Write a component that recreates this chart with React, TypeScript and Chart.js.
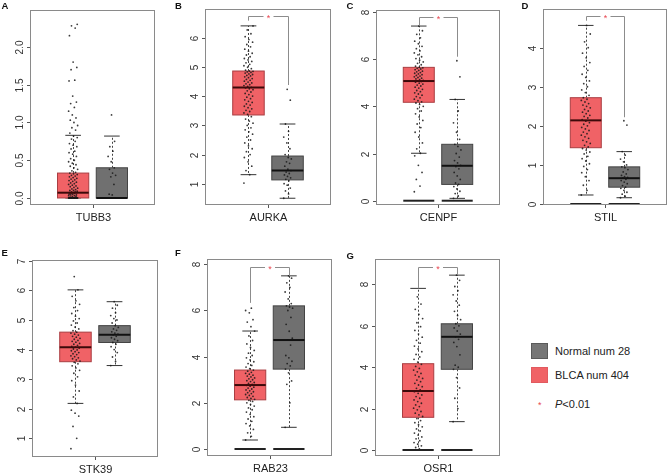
import React, { useEffect, useRef } from 'react';
import { Chart, registerables } from 'chart.js';

Chart.register(...registerables);

// ---------------- data ----------------
const genes = ['TUBB3', 'AURKA', 'CENPF', 'STIL', 'STK39', 'RAB23', 'OSR1'];
const panelLetters = ['A', 'B', 'C', 'D', 'E', 'F', 'G'];

// box statistics: [lower whisker, Q1, median, Q3, upper whisker]
const tumorStats = [
  [0, 0, 0.07, 0.33, 0.83],
  [1.31, 3.36, 4.3, 4.87, 6.42],
  [2.01, 4.17, 5.07, 5.65, 7.4],
  [0.23, 1.44, 2.14, 2.72, 4.57],
  [2.18, 3.59, 4.08, 4.59, 6.02],
  [0.39, 2.13, 2.77, 3.42, 5.11],
  [0.0, 1.58, 2.85, 4.17, 7.81],
];
const normalStats = [
  [0, 0, 0, 0.4, 0.82],
  [0.5, 1.13, 1.45, 1.95, 3.05],
  [0.1, 0.69, 1.48, 2.39, 4.29],
  [0.16, 0.43, 0.66, 0.95, 1.34],
  [3.46, 4.24, 4.5, 4.81, 5.62],
  [0.94, 3.46, 4.72, 6.2, 7.5],
  [1.37, 3.9, 5.47, 6.1, 8.45],
];

// significance brackets: [top, left end, right end] (null = none)
const brackets = [
  null,
  [6.76, 6.6, 4.39],
  [7.77, 7.44, 6.1],
  [4.81, 4.69, 2.22],
  null,
  [7.89, 6.33, 7.5],
  [8.85, 7.81, 8.45],
];
const zeroLine = [false, false, true, true, false, true, true];

const yMins = [-0.093, 0.268, -0.182, -0.026, 0.367, -0.303, -0.29];
const yMaxs = [2.49, 7.0, 8.08, 4.99, 7.03, 8.23, 9.23];
const yTickLabels = [
  ['0.0', '0.5', '1.0', '1.5', '2.0'],
  ['1', '2', '3', '4', '5', '6'],
  ['0', '2', '4', '6', '8'],
  ['0', '1', '2', '3', '4'],
  ['1', '2', '3', '4', '5', '6', '7'],
  ['0', '2', '4', '6', '8'],
  ['0', '2', '4', '6', '8'],
];

// expression values
const tumorTUBB3 = [0, 0, 0, 0, 0, 0, 0, 0, 0, 0, 0, 0, 0, 0, 0, 0, 0, 0, 0, 0,
  0.01, 0.02, 0.02, 0.03, 0.03, 0.04, 0.04, 0.05, 0.05, 0.06, 0.06, 0.07, 0.07, 0.07, 0.08, 0.08, 0.09, 0.1, 0.1, 0.11,
  0.12, 0.13, 0.14, 0.15, 0.16, 0.17, 0.18, 0.19, 0.2, 0.21, 0.22, 0.23, 0.24, 0.25, 0.26, 0.27, 0.28, 0.29, 0.3, 0.31,
  0.32, 0.33, 0.34, 0.36, 0.38, 0.4, 0.42, 0.44, 0.46, 0.48, 0.5, 0.52, 0.55, 0.58, 0.6, 0.62, 0.65, 0.68, 0.7, 0.72,
  0.75, 0.78, 0.8, 0.82, 0.86, 0.9, 0.93, 0.96, 1.0, 1.03, 1.06, 1.1, 1.15, 1.2, 1.25, 1.27, 1.35, 1.55, 1.56, 1.7,
  1.73, 1.8, 2.15, 2.25, 2.28, 2.3];
const normalTUBB3 = [0, 0, 0, 0, 0, 0, 0, 0, 0, 0, 0, 0, 0, 0, 0.04, 0.05, 0.18, 0.28, 0.3, 0.33, 0.38, 0.4, 0.48, 0.55, 0.62, 0.68, 0.75, 1.1];

const tumorAURKA = [1.02, 1.31, 1.45, 1.6, 1.75, 1.9, 2.0, 2.1, 2.2, 2.3, 2.4, 2.5, 2.6, 2.7, 2.78, 2.85, 2.92, 3.0, 3.08, 3.15, 3.22, 3.3,
  3.38, 3.43, 3.48, 3.52, 3.57, 3.61, 3.66, 3.7, 3.74, 3.79, 3.83, 3.88, 3.92, 3.97, 4.01, 4.06, 4.1, 4.15, 4.19, 4.23, 4.26, 4.29,
  4.31, 4.34, 4.37, 4.4, 4.43, 4.46, 4.49, 4.52, 4.55, 4.58, 4.61, 4.64, 4.67, 4.7, 4.72, 4.75, 4.77, 4.8, 4.82, 4.84, 4.86, 4.87,
  4.9, 4.95, 5.0, 5.05, 5.1, 5.15, 5.2, 5.25, 5.3, 5.36, 5.42, 5.48, 5.55, 5.62, 5.7, 5.78, 5.86, 5.95, 6.05, 6.15, 6.28, 6.42];
const normalAURKA = [0.5, 0.65, 0.75, 0.85, 0.95, 1.0, 1.1, 1.15, 1.2, 1.25, 1.3, 1.35, 1.4, 1.45, 1.5, 1.6, 1.7, 1.75, 1.85, 1.9, 2.0, 2.2, 2.4, 2.6, 2.8, 3.05, 3.87, 4.24];

const tumorCENPF = [0.38, 0.62, 0.9, 1.2, 1.5, 1.9, 2.01, 2.2, 2.45, 2.7, 2.9, 3.1, 3.25, 3.4, 3.55, 3.68, 3.8, 3.9, 4.0, 4.08, 4.14,
  4.19, 4.24, 4.3, 4.36, 4.41, 4.47, 4.52, 4.57, 4.62, 4.67, 4.72, 4.77, 4.81, 4.86, 4.9, 4.94, 4.98, 5.02, 5.05, 5.07,
  5.1, 5.13, 5.16, 5.19, 5.22, 5.25, 5.28, 5.31, 5.34, 5.37, 5.4, 5.43, 5.46, 5.49, 5.52, 5.55, 5.58, 5.61, 5.63, 5.65,
  5.7, 5.76, 5.82, 5.88, 5.95, 6.02, 6.1, 6.18, 6.26, 6.35, 6.44, 6.54, 6.65, 6.76, 6.9, 7.05, 7.2, 7.4];
const normalCENPF = [0.1, 0.2, 0.3, 0.4, 0.5, 0.6, 0.69, 0.75, 0.9, 1.05, 1.2, 1.35, 1.45, 1.5, 1.6, 1.7, 1.85, 2.0, 2.15, 2.3, 2.39, 2.6, 2.9, 3.3, 3.8, 4.29, 5.25, 5.93];

const tumorSTIL = [0.23, 0.35, 0.48, 0.6, 0.7, 0.8, 0.88, 0.96, 1.03, 1.1, 1.16, 1.22, 1.28, 1.33, 1.38, 1.42,
  1.46, 1.5, 1.55, 1.59, 1.63, 1.68, 1.72, 1.76, 1.8, 1.84, 1.88, 1.92, 1.96, 2.0, 2.04, 2.08, 2.12,
  2.16, 2.2, 2.24, 2.27, 2.31, 2.35, 2.38, 2.42, 2.46, 2.5, 2.53, 2.57, 2.61, 2.65, 2.68, 2.72,
  2.78, 2.85, 2.92, 3.0, 3.08, 3.15, 3.24, 3.32, 3.42, 3.52, 3.62, 3.74, 3.86, 4.0, 4.15, 4.35, 4.57];
const normalSTIL = [0.16, 0.2, 0.25, 0.3, 0.35, 0.4, 0.43, 0.47, 0.52, 0.56, 0.6, 0.63, 0.66, 0.68, 0.7, 0.73, 0.77, 0.82, 0.88, 0.93, 0.95, 1.0, 1.08, 1.15, 1.25, 1.34, 2.02, 2.13];

const tumorSTK39 = [0.65, 1.0, 1.4, 1.75, 1.85, 1.95, 2.18, 2.4, 2.6, 2.8, 2.95, 3.08, 3.2, 3.3, 3.38, 3.45, 3.52, 3.57,
  3.61, 3.65, 3.69, 3.72, 3.76, 3.79, 3.83, 3.86, 3.9, 3.93, 3.96, 3.99, 4.02, 4.05, 4.08,
  4.11, 4.14, 4.18, 4.21, 4.25, 4.28, 4.31, 4.35, 4.38, 4.42, 4.45, 4.49, 4.52, 4.56, 4.59,
  4.64, 4.7, 4.76, 4.83, 4.9, 4.97, 5.05, 5.13, 5.22, 5.32, 5.42, 5.53, 5.65, 5.8, 6.02, 6.47];
const normalSTK39 = [3.46, 3.6, 3.75, 3.9, 4.0, 4.1, 4.18, 4.24, 4.3, 4.35, 4.4, 4.45, 4.5, 4.52, 4.56, 4.6, 4.65, 4.7, 4.75, 4.81, 4.9, 5.0, 5.05, 5.15, 5.25, 5.4, 5.5, 5.62];

const tumorRAB23 = [0.39, 0.55, 0.7, 0.85, 1.0, 1.1, 1.2, 1.3, 1.4, 1.5, 1.6, 1.7, 1.78, 1.86, 1.93, 2.0, 2.06, 2.11,
  2.15, 2.19, 2.23, 2.28, 2.32, 2.36, 2.4, 2.44, 2.48, 2.52, 2.56, 2.6, 2.64, 2.68, 2.72, 2.76,
  2.8, 2.84, 2.88, 2.92, 2.96, 3.0, 3.04, 3.08, 3.12, 3.16, 3.2, 3.24, 3.28, 3.32, 3.37, 3.42,
  3.48, 3.55, 3.62, 3.7, 3.78, 3.86, 3.95, 4.05, 4.15, 4.27, 4.4, 4.55, 4.7, 4.9, 5.11, 5.3, 5.5, 5.6, 5.9, 6.0, 6.1];
const normalRAB23 = [0.94, 2.0, 2.8, 2.95, 3.3, 3.46, 3.6, 3.7, 3.8, 3.95, 4.05, 4.5, 4.72, 4.8, 5.1, 5.4, 5.7, 6.0, 6.1, 6.15, 6.2, 6.3, 6.5, 6.8, 7.0, 7.2, 7.4, 7.5];

const tumorOSR1 = [0.0, 0.05, 0.12, 0.2, 0.28, 0.36, 0.45, 0.54, 0.63, 0.72, 0.82, 0.92, 1.02, 1.12, 1.22, 1.32, 1.42, 1.52,
  1.62, 1.7, 1.78, 1.86, 1.94, 2.02, 2.1, 2.18, 2.26, 2.34, 2.42, 2.5, 2.58, 2.66, 2.74, 2.82,
  2.9, 2.98, 3.06, 3.14, 3.22, 3.3, 3.38, 3.46, 3.54, 3.62, 3.7, 3.78, 3.86, 3.94, 4.04, 4.14,
  4.25, 4.38, 4.5, 4.62, 4.75, 4.88, 5.02, 5.16, 5.3, 5.45, 5.6, 5.78, 5.96, 6.15, 6.35, 6.55, 6.8, 7.05, 7.4];
const normalOSR1 = [1.37, 2.0, 2.5, 3.0, 3.5, 3.9, 4.0, 4.1, 4.6, 5.0, 5.2, 5.35, 5.47, 5.6, 5.75, 5.9, 6.0, 6.1, 6.3, 6.5, 6.7, 7.0, 7.2, 7.5, 7.7, 7.9, 8.2, 8.45];

const tumorValues = [tumorTUBB3, tumorAURKA, tumorCENPF, tumorSTIL, tumorSTK39, tumorRAB23, tumorOSR1];
const normalValues = [normalTUBB3, normalAURKA, normalCENPF, normalSTIL, normalSTK39, normalRAB23, normalOSR1];

const legendLabels = ['Normal num 28', 'BLCA num 404'];

// ---------------- layout / style ----------------
const RECTS = [
  { L: 30, T: 10, R: 157, B: 205 },
  { L: 205, T: 9, R: 333, B: 205 },
  { L: 376, T: 10, R: 502, B: 205 },
  { L: 543, T: 9, R: 669, B: 205 },
  { L: 32, T: 260, R: 160, B: 457 },
  { L: 207, T: 259, R: 334, B: 456 },
  { L: 375, T: 259, R: 502, B: 456 },
];
const LETTER_POS = [[1.5, 1], [175, 1], [346.5, 1], [521.5, 1], [1.5, 247.5], [175, 247.5], [346.5, 250.5]];
const PAD = { left: 30, top: 10, right: 2, bottom: 28 };
const TUMOR_X = 0.345;
const NORMAL_X = 0.655;
const HALF = 0.125;
const RED = 'rgb(240,98,102)';
const RED_EDGE = 'rgb(170,62,66)';
const GRAY = 'rgb(112,112,112)';
const GRAY_EDGE = 'rgb(68,68,68)';
const FONT = '"Liberation Sans", Arial, Helvetica, sans-serif';

const jitter = (i: number, spread: number) => ((((i * 37) % 23) / 22) - 0.5) * 2 * spread;

function makePlugin(idx: number) {
  return {
    id: 'gepiaBox' + idx,
    beforeDatasetsDraw(chart: any) {
      const { ctx, scales } = chart;
      const x = scales.x;
      const y = scales.y;
      const drawBox = (cx: number, st: number[], fill: string, edge: string) => {
        const [lo, q1, m, q3, hi] = st;
        const xl = x.getPixelForValue(cx - HALF);
        const xr = x.getPixelForValue(cx + HALF);
        const xc = Math.round(x.getPixelForValue(cx)) + 0.5;
        const cl = x.getPixelForValue(cx - HALF / 2);
        const cr = x.getPixelForValue(cx + HALF / 2);
        ctx.save();
        ctx.lineWidth = 1;
        ctx.strokeStyle = '#444';
        ctx.setLineDash([2, 2]);
        ctx.beginPath();
        ctx.moveTo(xc, y.getPixelForValue(q3));
        ctx.lineTo(xc, y.getPixelForValue(hi));
        ctx.moveTo(xc, y.getPixelForValue(q1));
        ctx.lineTo(xc, y.getPixelForValue(lo));
        ctx.stroke();
        ctx.setLineDash([]);
        ctx.strokeStyle = '#333';
        ctx.beginPath();
        ctx.moveTo(cl, y.getPixelForValue(hi));
        ctx.lineTo(cr, y.getPixelForValue(hi));
        ctx.moveTo(cl, y.getPixelForValue(lo));
        ctx.lineTo(cr, y.getPixelForValue(lo));
        ctx.stroke();
        const yt = y.getPixelForValue(q3);
        const yb = y.getPixelForValue(q1);
        ctx.fillStyle = fill;
        ctx.fillRect(xl, yt, xr - xl, yb - yt);
        ctx.strokeStyle = edge;
        ctx.strokeRect(xl, yt, xr - xl, yb - yt);
        ctx.restore();
      };
      drawBox(TUMOR_X, tumorStats[idx], RED, RED_EDGE);
      drawBox(NORMAL_X, normalStats[idx], GRAY, GRAY_EDGE);
    },
    afterDatasetsDraw(chart: any) {
      const { ctx, scales, chartArea: a } = chart;
      const x = scales.x;
      const y = scales.y;
      ctx.save();
      const med = (cx: number, v: number, col: string) => {
        ctx.strokeStyle = col;
        ctx.lineWidth = 2;
        ctx.beginPath();
        ctx.moveTo(x.getPixelForValue(cx - HALF), y.getPixelForValue(v));
        ctx.lineTo(x.getPixelForValue(cx + HALF), y.getPixelForValue(v));
        ctx.stroke();
      };
      med(TUMOR_X, tumorStats[idx][2], 'rgb(60,10,10)');
      med(NORMAL_X, normalStats[idx][2], '#111');
      if (zeroLine[idx]) {
        med(TUMOR_X, 0, '#222');
        med(NORMAL_X, 0, '#222');
      }
      ctx.lineWidth = 1;
      ctx.strokeStyle = '#8a8a8a';
      ctx.strokeRect(a.left + 0.5, a.top + 0.5, a.right - a.left - 1, a.bottom - a.top - 1);
      ctx.strokeStyle = '#555';
      ctx.fillStyle = '#333';
      ctx.font = '10px ' + FONT;
      ctx.textAlign = 'center';
      ctx.textBaseline = 'middle';
      yTickLabels[idx].forEach((lab) => {
        const py = Math.round(y.getPixelForValue(Number(lab))) + 0.5;
        ctx.beginPath();
        ctx.moveTo(a.left, py);
        ctx.lineTo(a.left - 3, py);
        ctx.stroke();
        ctx.save();
        ctx.translate(a.left - 10, py);
        ctx.rotate(-Math.PI / 2);
        ctx.fillText(lab, 0, 0);
        ctx.restore();
      });
      const mx = Math.round(x.getPixelForValue(0.5)) + 0.5;
      ctx.beginPath();
      ctx.moveTo(mx, a.bottom);
      ctx.lineTo(mx, a.bottom + 3);
      ctx.stroke();
      ctx.font = '11px ' + FONT;
      ctx.fillStyle = '#222';
      ctx.textBaseline = 'top';
      ctx.fillText(genes[idx], mx, a.bottom + 7);
      const br = brackets[idx];
      if (br) {
        const [top, le, re] = br;
        const xl = Math.round(x.getPixelForValue(TUMOR_X)) + 0.5;
        const xr = Math.round(x.getPixelForValue(NORMAL_X)) + 0.5;
        const yt = Math.round(y.getPixelForValue(top)) + 0.5;
        const xm = (xl + xr) / 2;
        ctx.strokeStyle = '#8c8c8c';
        ctx.lineWidth = 1;
        ctx.beginPath();
        ctx.moveTo(xl, y.getPixelForValue(le));
        ctx.lineTo(xl, yt);
        ctx.lineTo(xm - 5, yt);
        ctx.moveTo(xm + 5, yt);
        ctx.lineTo(xr, yt);
        ctx.lineTo(xr, y.getPixelForValue(re));
        ctx.stroke();
        ctx.fillStyle = 'rgb(232,70,80)';
        ctx.font = '9px ' + FONT;
        ctx.textAlign = 'center';
        ctx.textBaseline = 'middle';
        ctx.fillText('*', xm, yt + 2);
      }
      ctx.restore();
    },
  };
}

function Panel({ idx }: { idx: number }) {
  const ref = useRef<HTMLCanvasElement>(null);
  const r = RECTS[idx];
  const w = r.R - r.L + PAD.left + PAD.right;
  const h = r.B - r.T + PAD.top + PAD.bottom;
  useEffect(() => {
    const tPts = tumorValues[idx].map((v, i) => ({ x: TUMOR_X + jitter(i, 0.036), y: v }));
    const nPts = normalValues[idx].map((v, i) => ({ x: NORMAL_X + jitter(i, 0.03), y: v }));
    const chart = new Chart(ref.current as HTMLCanvasElement, {
      type: 'scatter',
      data: {
        datasets: [
          { data: tPts, pointRadius: 0.9, pointBorderWidth: 0, backgroundColor: 'rgba(25,25,25,0.85)', borderColor: 'rgba(0,0,0,0)' },
          { data: nPts, pointRadius: 0.9, pointBorderWidth: 0, backgroundColor: 'rgba(25,25,25,0.85)', borderColor: 'rgba(0,0,0,0)' },
        ],
      },
      options: {
        animation: false,
        responsive: false,
        events: [],
        layout: { padding: PAD },
        plugins: { legend: { display: false }, tooltip: { enabled: false } },
        scales: {
          x: { type: 'linear', min: 0, max: 1, display: false },
          y: { type: 'linear', min: yMins[idx], max: yMaxs[idx], display: false },
        },
      },
      plugins: [makePlugin(idx)],
    } as any);
    return () => chart.destroy();
  }, [idx]);
  return (
    <canvas
      ref={ref}
      width={w}
      height={h}
      style={{ position: 'absolute', left: r.L - PAD.left, top: r.T - PAD.top, width: w, height: h }}
    />
  );
}

export default function App() {
  return (
    <div style={{ position: 'absolute', left: 0, top: 0, width: 671, height: 473, background: '#fff', overflow: 'hidden', fontFamily: FONT }}>
      {genes.map((g, i) => (
        <Panel key={g} idx={i} />
      ))}
      {panelLetters.map((l, i) => (
        <div key={l} style={{ position: 'absolute', left: LETTER_POS[i][0], top: LETTER_POS[i][1], fontSize: 9.5, lineHeight: 1, fontWeight: 'bold', color: '#111' }}>
          {l}
        </div>
      ))}
      <div style={{ position: 'absolute', left: 531, top: 343, width: 17, height: 16, background: 'rgb(118,118,118)', boxSizing: 'border-box', border: '1px solid rgb(90,90,90)' }} />
      <div style={{ position: 'absolute', left: 531, top: 367, width: 17, height: 16, background: RED, boxSizing: 'border-box', border: '1px solid rgb(225,90,95)' }} />
      <div style={{ position: 'absolute', left: 555, top: 344, fontSize: 11, lineHeight: '14px', color: '#222', whiteSpace: 'nowrap' }}>{legendLabels[0]}</div>
      <div style={{ position: 'absolute', left: 555, top: 368, fontSize: 11, lineHeight: '14px', color: '#222', whiteSpace: 'nowrap' }}>{legendLabels[1]}</div>
      <div style={{ position: 'absolute', left: 538, top: 399, fontSize: 9, lineHeight: '12px', color: 'rgb(232,70,80)' }}>*</div>
      <div style={{ position: 'absolute', left: 555, top: 397, fontSize: 11, lineHeight: '14px', color: '#222', whiteSpace: 'nowrap' }}>
        <i>P</i>&lt;0.01
      </div>
    </div>
  );
}
